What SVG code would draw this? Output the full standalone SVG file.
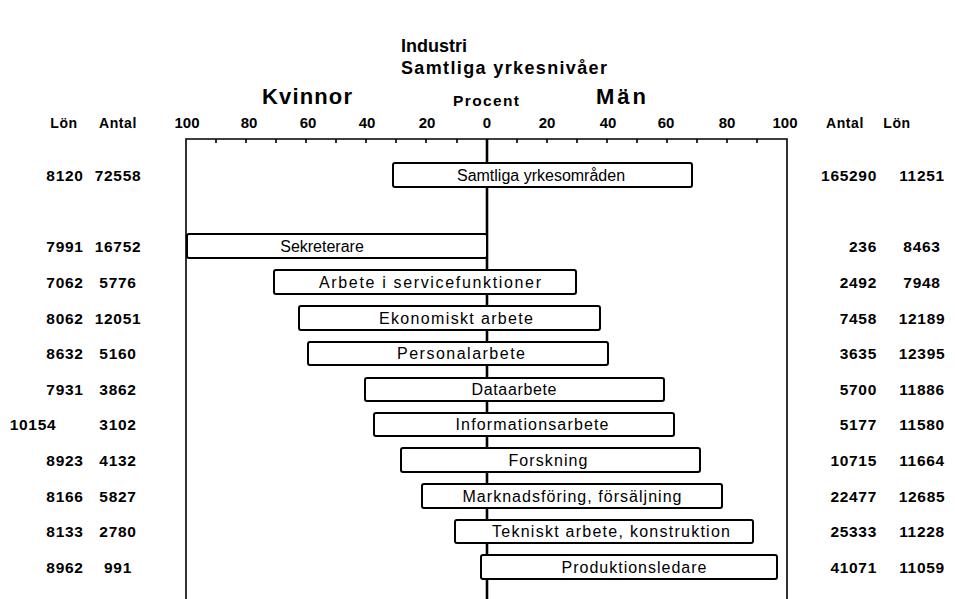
<svg xmlns="http://www.w3.org/2000/svg" width="955" height="599" viewBox="0 0 955 599">
<style>
text{font-family:"Liberation Sans",Arial,sans-serif;fill:#000}
.t{font-size:18px;font-weight:bold}
.h{font-size:14px;font-weight:bold;letter-spacing:0.6px}
.ax{font-size:15px;font-weight:bold;text-anchor:middle}
.n{font-size:15.5px;font-weight:bold;letter-spacing:0.7px}
.m{text-anchor:middle}
.e{text-anchor:end}
.lbl{font-size:16px;text-anchor:middle}
.bar{fill:#fff;stroke:#000;stroke-width:2}
.fr{stroke:#000;stroke-width:1.6;fill:none}
</style>
<rect width="955" height="599" fill="#fff"/>
<g id="title">
<text class="t" x="401" y="52" textLength="66">Industri</text>
<text class="t" x="401" y="74" textLength="206">Samtliga yrkesnivåer</text>
</g>
<g id="headers">
<text x="262" y="104" style="font-size:22px;font-weight:bold" textLength="90">Kvinnor</text>
<text x="596" y="104" style="font-size:22px;font-weight:bold" textLength="50">Män</text>
<text x="453" y="106" style="font-size:15.5px;font-weight:bold" textLength="66">Procent</text>
<text class="h m" x="64" y="128">Lön</text>
<text class="h m" x="118" y="128">Antal</text>
<text class="h m" x="845" y="128">Antal</text>
<text class="h m" x="897" y="128">Lön</text>
<text class="ax" x="187" y="128">100</text>
<text class="ax" x="249" y="128">80</text>
<text class="ax" x="308" y="128">60</text>
<text class="ax" x="367" y="128">40</text>
<text class="ax" x="427" y="128">20</text>
<text class="ax" x="487" y="128">0</text>
<text class="ax" x="547" y="128">20</text>
<text class="ax" x="608" y="128">40</text>
<text class="ax" x="666" y="128">60</text>
<text class="ax" x="727" y="128">80</text>
<text class="ax" x="785" y="128">100</text>
</g>
<g id="connectors">
<path class="fr" d="M186,599 V139 H787 V599"/>
<path class="fr" d="M216,139v4M246,139v4M276,139v4M306,139v4M336,139v4M366,139v4M396,139v4M426,139v4M457,139v4M517,139v4M547,139v4M577,139v4M607,139v4M637,139v4M667,139v4M697,139v4M727,139v4M757,139v4"/>
<line x1="487" y1="139" x2="487" y2="599" stroke="#000" stroke-width="2.6"/>
</g>
<g id="row1">
<rect class="bar" x="393" y="163" width="299" height="24" rx="2"/>
<text class="lbl" x="541" y="181">Samtliga yrkesområden</text>
<text class="n m" x="65" y="181">8120</text><text class="n m" x="118" y="181">72558</text>
<text class="n e" x="877" y="181">165290</text><text class="n m" x="922" y="181">11251</text>
</g>
<g id="row2">
<rect class="bar" x="187" y="234" width="300" height="24" rx="2"/>
<text class="lbl" x="322" y="252">Sekreterare</text>
<text class="n m" x="65" y="252">7991</text><text class="n m" x="118" y="252">16752</text>
<text class="n e" x="877" y="252">236</text><text class="n m" x="922" y="252">8463</text>
</g>
<g id="row3">
<rect class="bar" x="274" y="270" width="302" height="24" rx="2"/>
<text class="lbl" x="430" y="288" textLength="222">Arbete i servicefunktioner</text>
<text class="n m" x="65" y="288">7062</text><text class="n m" x="118" y="288">5776</text>
<text class="n e" x="877" y="288">2492</text><text class="n m" x="922" y="288">7948</text>
</g>
<g id="row4">
<rect class="bar" x="299" y="306" width="301" height="24" rx="2"/>
<text class="lbl" x="456" y="324" textLength="154">Ekonomiskt arbete</text>
<text class="n m" x="65" y="324">8062</text><text class="n m" x="118" y="324">12051</text>
<text class="n e" x="877" y="324">7458</text><text class="n m" x="922" y="324">12189</text>
</g>
<g id="row5">
<rect class="bar" x="308" y="342" width="300" height="23" rx="2"/>
<text class="lbl" x="461" y="359" textLength="128">Personalarbete</text>
<text class="n m" x="65" y="359">8632</text><text class="n m" x="118" y="359">5160</text>
<text class="n e" x="877" y="359">3635</text><text class="n m" x="922" y="359">12395</text>
</g>
<g id="row6">
<rect class="bar" x="365" y="378" width="299" height="23" rx="2"/>
<text class="lbl" x="514" y="395" textLength="85">Dataarbete</text>
<text class="n m" x="65" y="395">7931</text><text class="n m" x="118" y="395">3862</text>
<text class="n e" x="877" y="395">5700</text><text class="n m" x="922" y="395">11886</text>
</g>
<g id="row7">
<rect class="bar" x="374" y="413" width="300" height="23" rx="2"/>
<text class="lbl" x="532" y="430" textLength="153">Informationsarbete</text>
<text class="n m" x="33" y="430">10154</text><text class="n m" x="118" y="430">3102</text>
<text class="n e" x="877" y="430">5177</text><text class="n m" x="922" y="430">11580</text>
</g>
<g id="row8">
<rect class="bar" x="401" y="448" width="299" height="24" rx="2"/>
<text class="lbl" x="548" y="466" textLength="79">Forskning</text>
<text class="n m" x="65" y="466">8923</text><text class="n m" x="118" y="466">4132</text>
<text class="n e" x="877" y="466">10715</text><text class="n m" x="922" y="466">11664</text>
</g>
<g id="row9">
<rect class="bar" x="422" y="484" width="300" height="24" rx="2"/>
<text class="lbl" x="572" y="502" textLength="219">Marknadsföring, försäljning</text>
<text class="n m" x="65" y="502">8166</text><text class="n m" x="118" y="502">5827</text>
<text class="n e" x="877" y="502">22477</text><text class="n m" x="922" y="502">12685</text>
</g>
<g id="row10">
<rect class="bar" x="455" y="520" width="298" height="23" rx="2"/>
<text class="lbl" x="611" y="537" textLength="238">Tekniskt arbete, konstruktion</text>
<text class="n m" x="65" y="537">8133</text><text class="n m" x="118" y="537">2780</text>
<text class="n e" x="877" y="537">25333</text><text class="n m" x="922" y="537">11228</text>
</g>
<g id="row11">
<rect class="bar" x="481" y="555" width="296" height="24" rx="2"/>
<text class="lbl" x="634" y="573" textLength="145">Produktionsledare</text>
<text class="n m" x="65" y="573">8962</text><text class="n m" x="118" y="573">991</text>
<text class="n e" x="877" y="573">41071</text><text class="n m" x="922" y="573">11059</text>
</g>
</svg>
